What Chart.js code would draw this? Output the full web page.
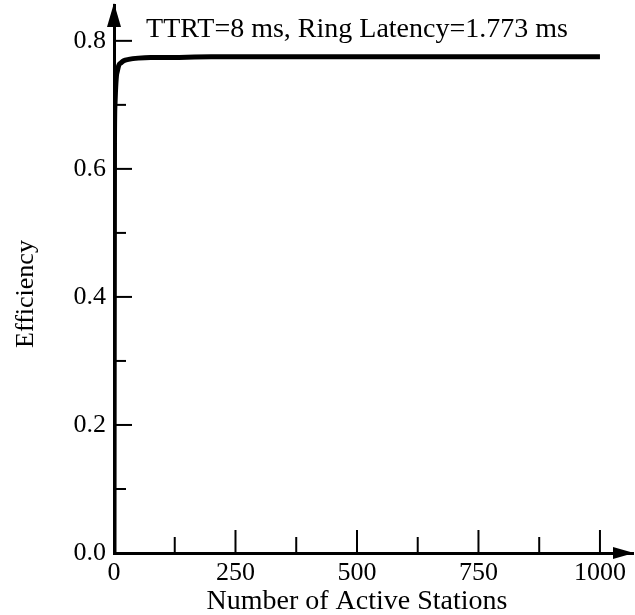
<!DOCTYPE html>
<html>
<head>
<meta charset="utf-8">
<script src="https://cdn.jsdelivr.net/npm/chart.js@4/dist/chart.umd.min.js"></script>
<style>
  html, body { margin: 0; padding: 0; background: #fff; }
  #wrap { width: 635px; height: 615px; }
</style>
</head>
<body>
<div id="wrap"><canvas id="graf"></canvas></div>
<script>
// broj aktivnih stanica i efikasnost, procitano sa slike
const stanice = [0, 1, 2, 3, 5, 7, 10, 15, 20, 30, 50, 75, 100, 200, 300, 500, 750, 1000];
const efikasnost = [0, 0.64, 0.70, 0.72, 0.745, 0.753, 0.762, 0.766, 0.769, 0.771, 0.773, 0.774, 0.774, 0.775, 0.775, 0.775, 0.775, 0.775];

const xOznake = [0, 250, 500, 750, 1000];
const xMale = [125, 375, 625, 875];
const yOznake = [0, 0.2, 0.4, 0.6, 0.8];
const yMale = [0.1, 0.3, 0.5, 0.7];

const naslov = "TTRT=8 ms, Ring Latency=1.773 ms";
const xNaslov = "Number of Active Stations";
const yNaslov = "Efficiency";

const font = "'Liberation Serif', 'DejaVu Serif', serif";

// osi sa strelicama, crtice prema unutra i tekstovi
const osiPlugin = {
    id: "osi",
    afterDraw(chart) {
        const ctx = chart.ctx;
        const x = chart.scales.x, y = chart.scales.y;
        const x0 = x.getPixelForValue(0), y0 = y.getPixelForValue(0);
        const area = chart.chartArea;
        ctx.save();
        ctx.strokeStyle = "#000";
        ctx.fillStyle = "#000";
        ctx.lineWidth = 2;
        xOznake.slice(1).forEach(v => {
            const px = x.getPixelForValue(v);
            ctx.beginPath(); ctx.moveTo(px, y0); ctx.lineTo(px, y0 - 23); ctx.stroke();
        });
        xMale.forEach(v => {
            const px = x.getPixelForValue(v);
            ctx.beginPath(); ctx.moveTo(px, y0); ctx.lineTo(px, y0 - 16); ctx.stroke();
        });
        yOznake.slice(1).forEach(v => {
            const py = y.getPixelForValue(v);
            ctx.beginPath(); ctx.moveTo(x0, py); ctx.lineTo(x0 + 18, py); ctx.stroke();
        });
        yMale.forEach(v => {
            const py = y.getPixelForValue(v);
            ctx.beginPath(); ctx.moveTo(x0, py); ctx.lineTo(x0 + 12, py); ctx.stroke();
        });
        // strelice
        ctx.beginPath();
        ctx.moveTo(x0, area.top - 2); ctx.lineTo(x0 - 7, area.top + 22); ctx.lineTo(x0 + 7, area.top + 22);
        ctx.closePath(); ctx.fill();
        ctx.beginPath();
        ctx.moveTo(area.right + 1, y0); ctx.lineTo(area.right - 20, y0 - 6); ctx.lineTo(area.right - 20, y0 + 6);
        ctx.closePath(); ctx.fill();

        ctx.font = "28px " + font;
        ctx.textAlign = "center";
        ctx.textBaseline = "alphabetic";
        ctx.fillText(naslov, 357, 37);
        ctx.fillText(xNaslov, 357, 609);
        ctx.font = "26px " + font;
        ctx.translate(33, 294);
        ctx.rotate(-Math.PI / 2);
        ctx.fillText(yNaslov, 0, 0);
        ctx.restore();
    }
};

new Chart(document.getElementById("graf").getContext("2d"), {
    type: "line",
    data: {
        datasets: [{
            data: stanice.map((s, i) => ({ x: s, y: efikasnost[i] })),
            borderColor: "#000",
            borderWidth: 5,
            pointRadius: 0,
            cubicInterpolationMode: "monotone",
            fill: false
        }]
    },
    options: {
        responsive: true,
        maintainAspectRatio: false,
        animation: false,
        layout: { padding: { top: 5, right: 2, left: 0, bottom: 0 } },
        plugins: {
            legend: { display: false },
            tooltip: { enabled: false }
        },
        scales: {
            x: {
                type: "linear",
                min: 0,
                max: 1068,
                afterBuildTicks: s => { s.ticks = xOznake.map(v => ({ value: v })); },
                afterFit: s => { s.height = 62; s.paddingLeft = 0; s.paddingRight = 0; },
                grid: { display: false, drawTicks: false },
                border: { display: true, color: "#000", width: 3 },
                ticks: {
                    color: "#000",
                    padding: 5,
                    maxRotation: 0,
                    font: { family: font, size: 26 },
                    callback: v => String(v)
                }
            },
            y: {
                type: "linear",
                min: 0,
                max: 0.856,
                afterBuildTicks: s => { s.ticks = yOznake.map(v => ({ value: v })); },
                afterFit: s => { s.width = 114; s.paddingTop = 0; s.paddingBottom = 0; },
                grid: { display: false, drawTicks: false },
                border: { display: true, color: "#000", width: 3 },
                ticks: {
                    color: "#000",
                    padding: 8,
                    font: { family: font, size: 26 },
                    callback: v => v.toFixed(1)
                }
            }
        }
    },
    plugins: [osiPlugin]
});
</script>
</body>
</html>
